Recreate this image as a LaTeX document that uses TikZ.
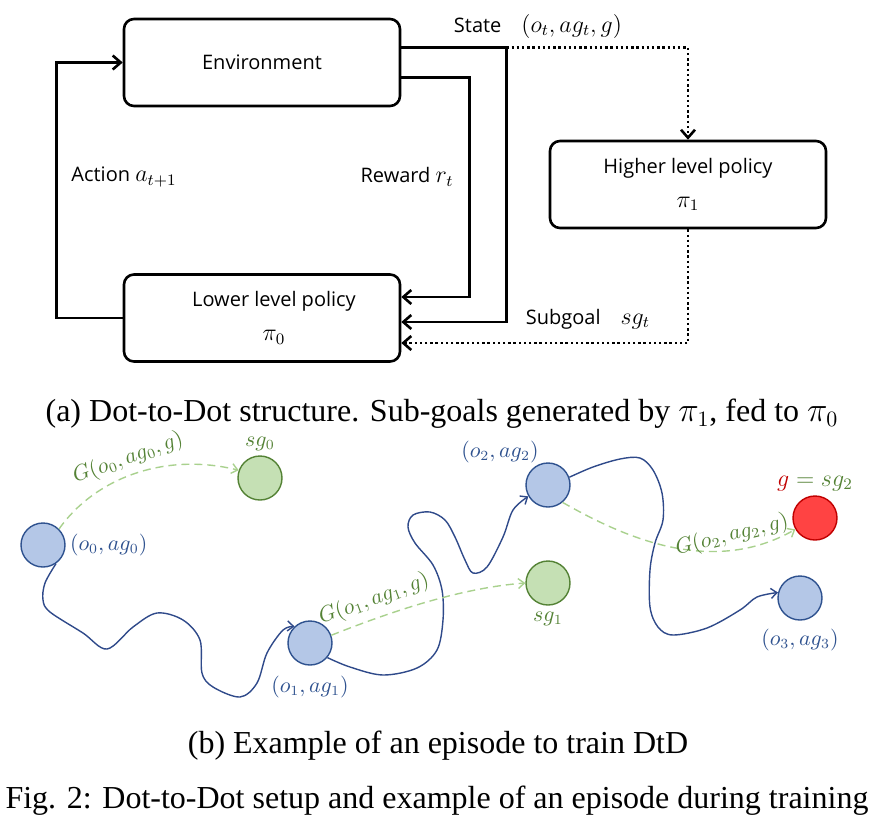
\documentclass[tikz,border=0pt]{standalone}
\usepackage{amsmath,amssymb}
\usepackage{xcolor}
\usepackage{fontspec}
\setmainfont{Liberation Serif}
\newfontfamily\diagfont{Open Sans}
\usepackage{tikz}
\usetikzlibrary{arrows.meta,positioning,calc}

\definecolor{obsfill}{HTML}{B4C7E7}
\definecolor{obsdraw}{HTML}{2F528F}
\definecolor{subfill}{HTML}{C5E0B4}
\definecolor{subdraw}{HTML}{548235}
\definecolor{goalfill}{HTML}{FF4343}
\definecolor{goaldraw}{HTML}{C00000}
\definecolor{trajline}{HTML}{2F4A8A}
\definecolor{predline}{HTML}{A9D18E}

\newcommand{\symb}[1]{{\fontsize{12pt}{14pt}\selectfont$#1$}}

\begin{document}
\begin{tikzpicture}[x=0.5pt,y=-0.5pt,>={Straight Barb[length=4pt,width=7pt]},font={\diagfont\fontsize{10pt}{12pt}\selectfont}]
    \tikzset{
        policy/.style={draw,line width=1.3pt,rounded corners=5pt,minimum width=138pt,minimum height=43.5pt,align=center,font={\diagfont\fontsize{10pt}{17pt}\selectfont}},
        flow/.style={line width=1.3pt,->},
        hint/.style={line width=1.3pt,dash pattern=on 1.2pt off 1.4pt,->},
        obsnode/.style={circle,draw=obsdraw,fill=obsfill,line width=0.7pt,minimum size=22pt,inner sep=0pt},
        subnode/.style={obsnode,draw=subdraw,fill=subfill},
        goalnode/.style={obsnode,draw=goaldraw,fill=goalfill},
        traj/.style={draw=trajline,line width=0.7pt,-{Straight Barb[length=3pt,width=5pt]}},
        pred/.style={draw=predline,line width=0.7pt,dash pattern=on 4pt off 2.5pt,-{Straight Barb[length=3pt,width=5pt]}},
        obslbl/.style={text=obsdraw,font={\fontsize{10.5pt}{12pt}\selectfont},inner sep=1pt},
        sublbl/.style={obslbl,text=subdraw},
        caption/.style={font={\rmfamily\fontsize{16pt}{19pt}\selectfont},anchor=base}
    }
    \useasboundingbox (0,0) rectangle (875,827);
    % (a) policy loop
    \node[policy] (env) at (262,62.5) {Environment};
    \node[policy] (low) at (262,318) {\hspace*{12pt}Lower level policy\\\hspace*{12pt}\symb{\pi_0}};
    \node[policy] (high) at (688,184.5) {Higher level policy\\\symb{\pi_1}};
    \draw[flow] (low.west) -- ++(-66,0) |- (env.west);
    \draw[flow] ([yshift=-7.5pt]env.east) -- ++(68,0) |- ([yshift=10.5pt]low.east);
    \draw[flow] ([yshift=7.5pt]env.east) -- ++(105,0) coordinate (split) |- ([yshift=-2pt]low.east);
    \draw[hint] (split) -| (high.north);
    \draw[hint] (high.south) |- ([yshift=-12.5pt]low.east);
    \node (actionlbl) at (124,177) {Action \symb{a_{t+1}}};
    \node (rewardlbl) at (407,177) {Reward \symb{r_t}};
    \node (statelbl) at (538,26) {State\quad\symb{(o_t, ag_t, g)}};
    \node (subgoallbl) at (588,319) {Subgoal\quad\symb{sg_t}};
    \node[caption] (capa) at (442,421) {(a) Dot-to-Dot structure. Sub-goals generated by $\pi_1$, fed to $\pi_0$};
    % (b) episode
    \node[obsnode] (o0) at (43,545) {};
    \node[obsnode] (o1) at (310,643) {};
    \node[obsnode] (o2) at (548,485) {};
    \node[obsnode] (o3) at (800,598) {};
    \node[subnode] (sg0) at (260,478) {};
    \node[subnode] (sg1) at (548,583) {};
    \node[goalnode] (goal) at (815,518) {};
    \node[obslbl,right=1pt of o0] (o0lbl) {$(o_0, ag_0)$};
    \node[obslbl,below=4pt of o1] (o1lbl) {$(o_1, ag_1)$};
    \node[obslbl] (o2lbl) at (500,452) {$(o_2, ag_2)$};
    \node[obslbl,below=3pt of o3] (o3lbl) {$(o_3, ag_3)$};
    \node[sublbl,above=1pt of sg0] (sg0lbl) {$sg_0$};
    \node[sublbl,below=2pt of sg1] (sg1lbl) {$sg_1$};
    \node[sublbl,above=1pt of goal,font={\fontsize{12pt}{14pt}\selectfont}] (goallbl) {$\textcolor{goaldraw}{g} = sg_2$};
    % trajectory
    \draw[traj] plot[smooth,tension=0.55] coordinates {(o0.-55) (45,583) (43,600) (50,612) (83,633) (107,649) (133,627) (157,613) (183,620) (200,640) (202,673) (213,687) (240,697) (257,683) (267,653) (283,630) (o1.133)};
    \draw[traj] plot[smooth,tension=0.55] coordinates {(o1.-40) (350,667) (383,675) (417,668) (437,650) (443,620) (442,590) (433,565) (415,543) (408,527) (413,515) (430,512) (445,520) (455,537) (465,560) (473,573) (487,567) (503,537) (513,510) (o2.210)};
    \draw[traj] plot[smooth,tension=0.55] coordinates {(o2.20) (593,467) (620,459) (640,458) (653,470) (662,493) (663,520) (655,543) (650,570) (650,607) (658,627) (673,635) (707,628) (740,610) (757,597) (o3.166)};
    % generated sub-goals
    \draw[pred] (o0.45) .. controls (95,478) and (165,452) .. (sg0.160);
    \draw[pred] (o1.20) .. controls (390,612) and (460,588) .. (sg1.180);
    \draw[pred] (o2.-50) .. controls (620,535) and (710,578) .. (goal.210);
    \node[sublbl,rotate=20] (pred0lbl) at (128,458) {$G(o_0, ag_0, g)$};
    \node[sublbl,rotate=20] (pred1lbl) at (374,599) {$G(o_1, ag_1, g)$};
    \node[sublbl,rotate=14] (pred2lbl) at (732,535) {$G(o_2, ag_2, g)$};
    \node[caption] (capb) at (438,753) {(b) Example of an episode to train DtD};
    \node[caption] (capfig) at (437,808) {Fig. 2: Dot-to-Dot setup and example of an episode during training};
\end{tikzpicture}
\end{document}
